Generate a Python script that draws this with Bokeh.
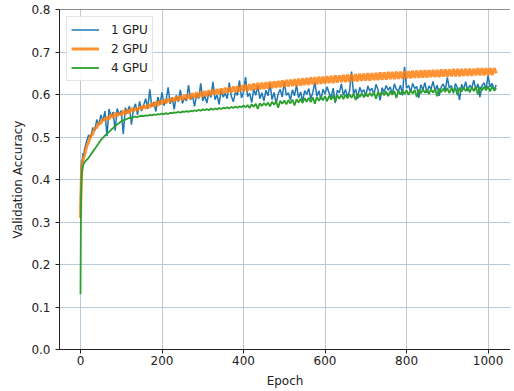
from bokeh.plotting import figure
from bokeh.models import Range1d, FixedTicker, PrintfTickFormatter, Span, Legend, LegendItem
from bokeh.embed import file_html
from bokeh.resources import INLINE

epochs = [0, 1, 2, 3, 4, 6, 8] + list(range(10, 1021, 5))

gpu1 = [0.330, 0.400, 0.430, 0.445, 0.440, 0.462, 0.455,
        0.472, 0.490, 0.505, 0.498, 0.522, 0.515, 0.541, 0.528, 0.552, 0.538,
        0.561, 0.502, 0.566, 0.548, 0.559, 0.515, 0.567, 0.553, 0.562, 0.507,
        0.569, 0.556, 0.573, 0.529, 0.566, 0.578, 0.552, 0.584, 0.561, 0.575,
        0.590, 0.566, 0.612, 0.571, 0.582, 0.560, 0.594, 0.576, 0.605, 0.574,
        0.586, 0.617, 0.578, 0.593, 0.565, 0.598, 0.583, 0.611, 0.579, 0.592,
        0.585, 0.622, 0.588, 0.596, 0.572, 0.601, 0.590, 0.626, 0.585, 0.597,
        0.580, 0.606, 0.593, 0.630, 0.588, 0.599, 0.577, 0.611, 0.594, 0.603,
        0.590, 0.628, 0.596, 0.583, 0.605, 0.598, 0.633, 0.592, 0.606, 0.641,
        0.595, 0.603, 0.581, 0.612, 0.598, 0.622, 0.590, 0.604, 0.585, 0.610,
        0.597, 0.626, 0.588, 0.605, 0.579, 0.601, 0.612, 0.594, 0.630, 0.598,
        0.604, 0.587, 0.611, 0.597, 0.622, 0.592, 0.606, 0.583, 0.609, 0.600,
        0.614, 0.590, 0.605, 0.628, 0.596, 0.609, 0.588, 0.612, 0.601, 0.618,
        0.603, 0.594, 0.615, 0.580, 0.610, 0.604, 0.625, 0.598, 0.612, 0.595,
        0.608, 0.654, 0.601, 0.613, 0.590, 0.617, 0.605, 0.611, 0.596, 0.620,
        0.608, 0.615, 0.599, 0.624, 0.611, 0.586, 0.616, 0.605, 0.621, 0.610,
        0.618, 0.600, 0.625, 0.612, 0.608, 0.622, 0.598, 0.665, 0.615, 0.621,
        0.606, 0.626, 0.614, 0.619, 0.592, 0.623, 0.611, 0.628, 0.604, 0.620,
        0.613, 0.631, 0.609, 0.622, 0.597, 0.618, 0.625, 0.610, 0.640, 0.615,
        0.621, 0.603, 0.626, 0.616, 0.587, 0.624, 0.612, 0.630, 0.608, 0.622,
        0.615, 0.634, 0.611, 0.625, 0.594, 0.620, 0.628, 0.612, 0.645, 0.618,
        0.626, 0.610, 0.622]

gpu2 = [0.310, 0.360, 0.400, 0.420, 0.435, 0.445, 0.452,
        0.458, 0.478, 0.488, 0.503, 0.507, 0.521, 0.522, 0.534, 0.532, 0.543,
        0.539, 0.547, 0.542, 0.553, 0.545, 0.557, 0.550, 0.556, 0.552, 0.562,
        0.553, 0.565, 0.556, 0.568, 0.561, 0.567, 0.563, 0.571, 0.565, 0.574,
        0.567, 0.576, 0.570, 0.580, 0.572, 0.583, 0.574, 0.585, 0.577, 0.588,
        0.580, 0.590, 0.583, 0.592, 0.584, 0.595, 0.586, 0.597, 0.587, 0.599,
        0.589, 0.600, 0.590, 0.603, 0.592, 0.605, 0.593, 0.606, 0.595, 0.608,
        0.596, 0.610, 0.598, 0.611, 0.600, 0.613, 0.601, 0.614, 0.602, 0.616,
        0.604, 0.617, 0.605, 0.619, 0.606, 0.620, 0.607, 0.622, 0.608, 0.623,
        0.609, 0.624, 0.610, 0.626, 0.611, 0.627, 0.612, 0.628, 0.613, 0.629,
        0.614, 0.630, 0.615, 0.631, 0.616, 0.632, 0.617, 0.633, 0.618, 0.634,
        0.619, 0.635, 0.620, 0.636, 0.620, 0.637, 0.621, 0.638, 0.622, 0.639,
        0.623, 0.640, 0.624, 0.641, 0.624, 0.642, 0.625, 0.642, 0.626, 0.643,
        0.627, 0.644, 0.627, 0.645, 0.628, 0.645, 0.629, 0.646, 0.629, 0.647,
        0.630, 0.647, 0.631, 0.648, 0.631, 0.649, 0.632, 0.649, 0.633, 0.650,
        0.633, 0.650, 0.634, 0.651, 0.634, 0.652, 0.635, 0.652, 0.635, 0.653,
        0.636, 0.653, 0.636, 0.654, 0.637, 0.654, 0.637, 0.655, 0.638, 0.655,
        0.638, 0.656, 0.639, 0.656, 0.639, 0.657, 0.640, 0.657, 0.640, 0.657,
        0.641, 0.658, 0.641, 0.658, 0.641, 0.659, 0.642, 0.659, 0.642, 0.659,
        0.643, 0.660, 0.643, 0.660, 0.643, 0.660, 0.644, 0.661, 0.644, 0.661,
        0.644, 0.661, 0.645, 0.662, 0.645, 0.662, 0.645, 0.662, 0.645, 0.662,
        0.646, 0.662, 0.650]

gpu4 = [0.130, 0.310, 0.380, 0.410, 0.420, 0.432, 0.437,
        0.441, 0.446, 0.451, 0.458, 0.465, 0.472, 0.479, 0.486, 0.493, 0.498,
        0.503, 0.508, 0.512, 0.517, 0.521, 0.526, 0.530, 0.533, 0.537, 0.539,
        0.541, 0.543, 0.545, 0.544, 0.547, 0.548, 0.547, 0.549, 0.550, 0.549,
        0.551, 0.550, 0.552, 0.551, 0.553, 0.552, 0.554, 0.553, 0.555, 0.554,
        0.556, 0.554, 0.557, 0.556, 0.558, 0.557, 0.559, 0.557, 0.560, 0.559,
        0.561, 0.559, 0.562, 0.560, 0.563, 0.561, 0.564, 0.562, 0.565, 0.563,
        0.566, 0.563, 0.567, 0.564, 0.567, 0.565, 0.568, 0.566, 0.569, 0.567,
        0.570, 0.567, 0.571, 0.568, 0.572, 0.569, 0.572, 0.570, 0.574, 0.570,
        0.575, 0.568, 0.577, 0.571, 0.578, 0.566, 0.579, 0.573, 0.580, 0.574,
        0.581, 0.572, 0.583, 0.576, 0.584, 0.569, 0.585, 0.578, 0.586, 0.577,
        0.587, 0.579, 0.588, 0.574, 0.589, 0.581, 0.590, 0.580, 0.591, 0.583,
        0.592, 0.582, 0.593, 0.578, 0.594, 0.585, 0.595, 0.586, 0.596, 0.584,
        0.597, 0.588, 0.598, 0.583, 0.598, 0.590, 0.599, 0.589, 0.600, 0.591,
        0.601, 0.592, 0.602, 0.587, 0.602, 0.594, 0.603, 0.593, 0.604, 0.595,
        0.604, 0.596, 0.605, 0.590, 0.606, 0.597, 0.606, 0.598, 0.607, 0.596,
        0.608, 0.599, 0.608, 0.592, 0.609, 0.600, 0.609, 0.601, 0.610, 0.599,
        0.610, 0.602, 0.611, 0.594, 0.611, 0.603, 0.612, 0.604, 0.612, 0.601,
        0.613, 0.604, 0.613, 0.596, 0.614, 0.605, 0.614, 0.606, 0.615, 0.603,
        0.615, 0.606, 0.616, 0.598, 0.616, 0.607, 0.616, 0.608, 0.617, 0.605,
        0.617, 0.608, 0.618, 0.600, 0.618, 0.609, 0.618, 0.610, 0.619, 0.607,
        0.619, 0.609, 0.615]

series_labels = ["1 GPU", "2 GPU", "4 GPU"]
y_ticks = [0.0, 0.1, 0.2, 0.3, 0.4, 0.5, 0.6, 0.7, 0.8]
x_ticks = [0, 200, 400, 600, 800, 1000]

FONT = "DejaVu Sans"
TXT = "#222222"
FS = "12px"

p = figure(width=510, height=390, output_backend="svg", toolbar_location=None,
           x_range=Range1d(-51.5, 1055), y_range=Range1d(0, 0.8),
           min_border_left=59, min_border_top=9, min_border_right=0, min_border_bottom=30,
           background_fill_color="white", border_fill_color="white")
p.outline_line_color = None

r1 = p.line(epochs, gpu1, line_color="#1f77b4", line_width=1.5)
r2 = p.line(epochs, gpu2, line_color="#ff7f0e", line_width=3, line_alpha=0.85)
r4 = p.line(epochs, gpu4, line_color="#2ca02c", line_width=1.8)

p.add_layout(Span(location=0.8, dimension="width", line_color="#222222", line_width=1))

for ax in (p.xaxis[0], p.yaxis[0]):
    ax.axis_line_color = "#222222"
    ax.major_tick_line_color = "#222222"
    ax.major_tick_out = 4
    ax.major_tick_in = 0
    ax.minor_tick_out = 0
    ax.minor_tick_in = 0
    ax.major_label_text_font = FONT
    ax.major_label_text_font_size = FS
    ax.major_label_text_color = TXT
    ax.axis_label_text_font = FONT
    ax.axis_label_text_font_size = FS
    ax.axis_label_text_font_style = "normal"
    ax.axis_label_text_color = TXT

p.xaxis.ticker = FixedTicker(ticks=x_ticks)
p.yaxis.ticker = FixedTicker(ticks=y_ticks)
p.yaxis.formatter = PrintfTickFormatter(format="%.1f")
p.xaxis.axis_label = "Epoch"
p.yaxis.axis_label = "Validation Accuracy"
p.xaxis.major_label_standoff = 2
p.xaxis.axis_label_standoff = 6
p.yaxis.major_label_standoff = 5
p.yaxis.axis_label_standoff = 3

p.xgrid.grid_line_color = "#b8cad8"
p.ygrid.grid_line_color = "#b8cad8"
p.xgrid.grid_line_width = 1
p.ygrid.grid_line_width = 1

legend = Legend(items=[LegendItem(label=series_labels[0], renderers=[r1]),
                       LegendItem(label=series_labels[1], renderers=[r2]),
                       LegendItem(label=series_labels[2], renderers=[r4])],
                location="top_left")
legend.margin = 7
legend.padding = 4
legend.spacing = 2
legend.glyph_width = 28
legend.glyph_height = 17
legend.label_height = 17
legend.label_standoff = 12
legend.label_text_font = FONT
legend.label_text_font_size = FS
legend.label_text_color = TXT
legend.border_line_color = "#cccccc"
legend.border_line_width = 1
legend.background_fill_color = "white"
legend.background_fill_alpha = 0.85
p.add_layout(legend)

open("out.html", "w").write(file_html(p, INLINE))
